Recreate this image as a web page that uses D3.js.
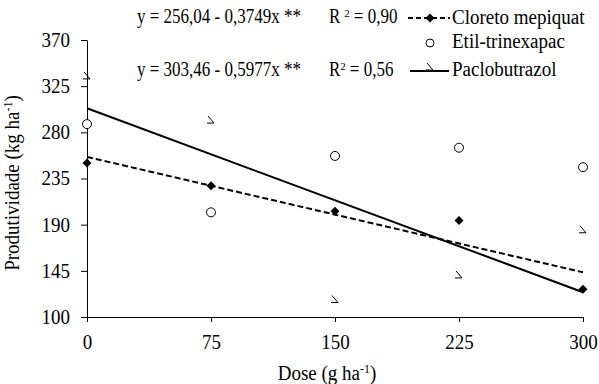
<!DOCTYPE html>
<html>
<head>
<meta charset="utf-8">
<script src="https://d3js.org/d3.v7.min.js"></script>
</head>
<body style="margin:0">
<script>
const doses = [0, 75, 150, 225, 300];
const cloreto = [250, 228, 203, 194, 127];
const etil = [288, 202, 257, 265, 246];
const paclo = [335, 292, 117, 141, 185];
const yTicks = [100, 145, 190, 235, 280, 325, 370];

// fitted lines (intercept, slope)
const fitCloreto = [256.04, -0.3749];
const fitPaclo = [303.46, -0.5977];

// serif only renders from 20px here: draw at 20 and squeeze width with textLength
const FONT = 'Liberation Serif';
const BASE = 20;
const width = 599, height = 384;
const margin = {left: 87, right: 16, top: 40, bottom: 67};

const svg = d3.select('body').append('svg')
    .attr('width', width)
    .attr('height', height);

const x = d3.scaleLinear().domain([0, 300]).range([margin.left, width - margin.right]);
const y = d3.scaleLinear().domain([100, 370]).range([height - margin.bottom, margin.top]);

function squeeze(t, size) {
    const len = t.node().getComputedTextLength();
    t.attr('textLength', len * size / BASE).attr('lengthAdjust', 'spacingAndGlyphs');
    return len * size / BASE;
}

// axes
const xAxis = svg.append('g')
    .attr('transform', `translate(0,${height - margin.bottom})`)
    .call(d3.axisBottom(x).tickValues(doses).tickSize(5).tickSizeOuter(0).tickPadding(13));
const yAxis = svg.append('g')
    .attr('transform', `translate(${margin.left},0)`)
    .call(d3.axisLeft(y).tickValues(yTicks).tickSize(6).tickSizeOuter(0).tickPadding(11));

[xAxis, yAxis].forEach(g => {
    g.attr('font-family', FONT).attr('font-size', BASE);
    g.selectAll('line,path').attr('stroke', '#000');
    g.selectAll('text').attr('fill', '#000').attr('font-family', FONT).attr('font-size', BASE)
        .each(function() { squeeze(d3.select(this), 19); });
});

// regression lines
const line = d3.line().x(d => x(d[0])).y(d => y(d[1]));
const fitPts = f => [[0, f[0]], [300, f[0] + f[1] * 300]];

svg.append('path')
    .attr('d', line(fitPts(fitCloreto)))
    .attr('fill', 'none')
    .attr('stroke', '#000')
    .attr('stroke-width', 2)
    .attr('stroke-dasharray', '6,3');

svg.append('path')
    .attr('d', line(fitPts(fitPaclo)))
    .attr('fill', 'none')
    .attr('stroke', '#000')
    .attr('stroke-width', 2);

// markers
const diamond = 'M0,-4.5L4.5,0L0,4.5L-4.5,0Z';
const hook = 'M-3,-4L3,3L-4,3';

svg.selectAll('path.cm')
    .data(doses)
    .join('path')
    .attr('class', 'cm')
    .attr('d', diamond)
    .attr('transform', (d, i) => `translate(${x(d)},${y(cloreto[i])})`)
    .attr('fill', '#000');

svg.selectAll('circle.et')
    .data(doses)
    .join('circle')
    .attr('class', 'et')
    .attr('cx', d => x(d))
    .attr('cy', (d, i) => y(etil[i]))
    .attr('r', 4.5)
    .attr('fill', '#fff')
    .attr('stroke', '#000')
    .attr('stroke-width', 1);

svg.selectAll('path.pb')
    .data(doses)
    .join('path')
    .attr('class', 'pb')
    .attr('d', hook)
    .attr('transform', (d, i) => `translate(${x(d)},${y(paclo[i])})`)
    .attr('fill', 'none')
    .attr('stroke', '#000')
    .attr('stroke-width', 1);

// text made of pieces (normal / superscript), gap = extra space after a piece
function richText(transform, parts, size, anchor) {
    const outer = svg.append('g').attr('transform', transform);
    const g = outer.append('g');
    let cx = 0;
    parts.forEach(p => {
        const t = g.append('text')
            .attr('x', cx)
            .attr('y', p.sup ? -size * 0.38 : 0)
            .attr('font-family', FONT)
            .attr('fill', '#000')
            .text(p.t);
        if (p.sup) {
            t.attr('font-size', Math.round(size * 0.62));
            cx += t.node().getComputedTextLength();
        } else {
            t.attr('font-size', BASE);
            cx += squeeze(t, size);
        }
        cx += p.gap || 0;
    });
    if (anchor === 'middle') g.attr('transform', `translate(${-cx / 2},0)`);
    return outer;
}

// axis titles
richText('translate(327,380)', [{t: 'Dose (g ha'}, {t: '-1', sup: true}, {t: ')'}], 19, 'middle');
richText('translate(19,183) rotate(-90)',
    [{t: 'Produtividade (kg ha'}, {t: '-1', sup: true}, {t: ')'}], 19, 'middle');

// equations
richText('translate(137,23)', [{t: 'y = 256,04 - 0,3749x **'}], 17);
richText('translate(137,76)', [{t: 'y = 303,46 - 0,5977x **'}], 17);
richText('translate(329,23)', [{t: 'R', gap: 4}, {t: '2', sup: true, gap: 4}, {t: '= 0,90'}], 17);
richText('translate(329,76)', [{t: 'R'}, {t: '2', sup: true, gap: 4}, {t: '= 0,56'}], 17);

// legend
svg.append('line').attr('x1', 408).attr('x2', 450).attr('y1', 18).attr('y2', 18)
    .attr('stroke', '#000').attr('stroke-width', 2).attr('stroke-dasharray', '5,3');
svg.append('path').attr('d', diamond).attr('transform', 'translate(430,18)');
richText('translate(452,24)', [{t: 'Cloreto mepiquat'}], 19);

svg.append('circle').attr('cx', 430).attr('cy', 43).attr('r', 4)
    .attr('fill', '#fff').attr('stroke', '#000');
richText('translate(452,48)', [{t: 'Etil-trinexapac'}], 19);

svg.append('line').attr('x1', 410).attr('x2', 449).attr('y1', 71).attr('y2', 71)
    .attr('stroke', '#000').attr('stroke-width', 2);
svg.append('path').attr('d', hook).attr('transform', 'translate(430,67)')
    .attr('fill', 'none').attr('stroke', '#000');
richText('translate(452,76)', [{t: 'Paclobutrazol'}], 19);
</script>
</body>
</html>
